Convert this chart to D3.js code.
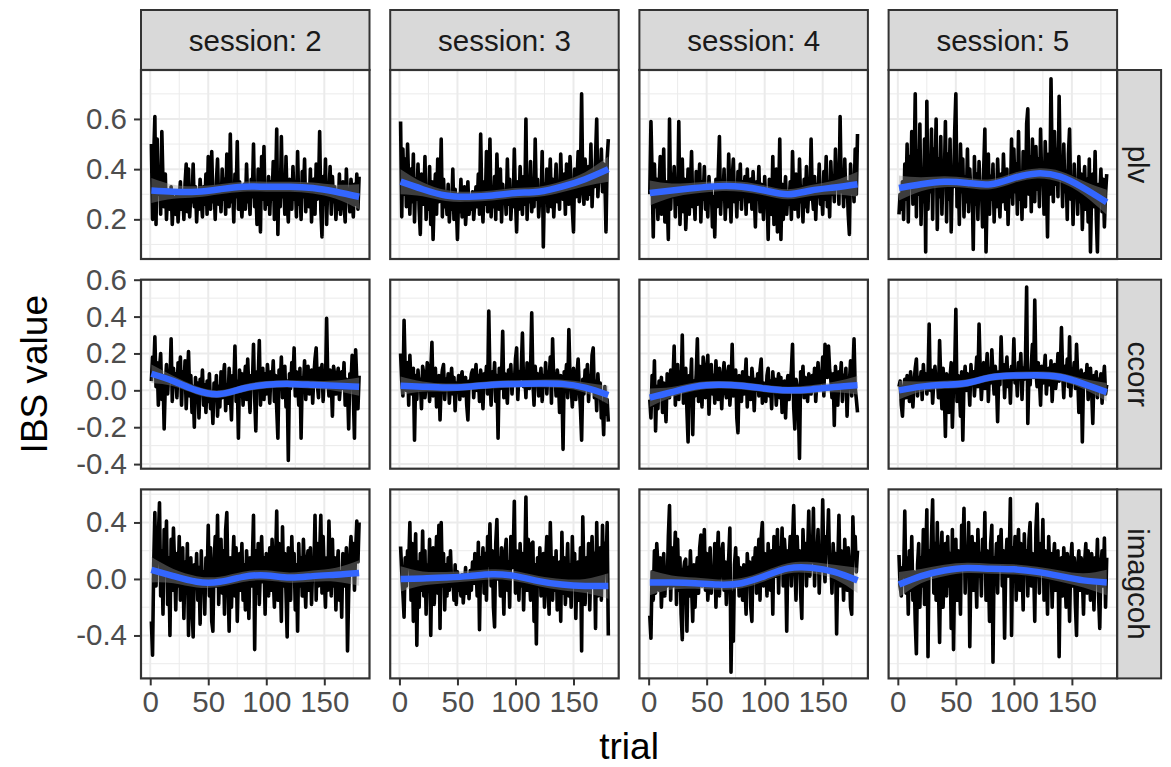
<!DOCTYPE html>
<html lang="en">
<head>
<meta charset="UTF-8">
<title>IBS value by trial</title>
<style>
  body { margin: 0; background: #fff; }
  text { font-family: "Liberation Sans", Arial, sans-serif; }
</style>
</head>
<body>
<div class="chart"></div>
<script src="https://d3js.org/d3.v7.min.js"></script>
<script>
// facet labels
var sessions = ["session: 2", "session: 3", "session: 4", "session: 5"];
var measures = ["plv", "ccorr", "imagcoh"];

// x ticks and y ticks per row
var xTicks = [0, 50, 100, 150];
var plvTicks = [0.2, 0.4, 0.6];
var ccorrTicks = [-0.4, -0.2, 0.0, 0.2, 0.4, 0.6];
var imagcohTicks = [-0.4, 0.0, 0.4];

// raw IBS values, trial 1..180
var plvS2 = [.50,.20,.45,.61,.18,.52,.30,.40,.22,.55,.35,.25,.38,.20,.30,.28,.24,.33,.18,.29,
  .26,.22,.31,.19,.28,.35,.24,.30,.20,.34,.42,.23,.40,.21,.30,.27,.42,.25,.33,.19,
  .30,.24,.36,.28,.21,.33,.26,.38,.22,.45,.29,.24,.47,.27,.33,.20,.35,.44,.26,.31,
  .23,.40,.28,.36,.22,.46,.30,.25,.54,.27,.33,.19,.38,.29,.51,.24,.35,.28,.21,.30,
  .34,.24,.42,.27,.31,.22,.36,.29,.50,.25,.33,.18,.40,.30,.15,.45,.28,.49,.24,.32,
  .26,.37,.22,.35,.28,.43,.20,.31,.56,.14,.38,.25,.53,.29,.33,.22,.45,.27,.19,.36,
  .30,.24,.41,.28,.35,.21,.47,.26,.32,.20,.39,.29,.44,.23,.34,.27,.25,.40,.19,.33,
  .36,.22,.42,.28,.31,.55,.24,.13,.37,.26,.44,.18,.34,.30,.41,.22,.37,.27,.33,.20,
  .29,.24,.38,.22,.32,.35,.26,.19,.40,.28,.31,.23,.36,.29,.21,.34,.26,.38,.24,.37];
var plvS3 = [.59,.21,.48,.30,.44,.25,.50,.35,.22,.40,.27,.46,.19,.36,.28,.42,.24,.14,.38,.30,
  .26,.45,.20,.33,.24,.41,.18,.35,.12,.29,.38,.22,.44,.27,.30,.52,.21,.36,.25,.31,
  .22,.34,.19,.28,.24,.40,.20,.32,.26,.12,.30,.23,.36,.21,.27,.33,.18,.26,.35,.22,
  .29,.24,.31,.20,.27,.33,.25,.38,.22,.54,.28,.19,.35,.26,.47,.23,.30,.52,.21,.33,
  .25,.37,.20,.46,.28,.24,.40,.19,.34,.27,.31,.22,.44,.26,.36,.20,.30,.25,.48,.28,
  .15,.35,.24,.41,.29,.22,.37,.26,.60,.20,.33,.27,.43,.23,.31,.25,.52,.28,.36,.21,
  .30,.26,.47,.09,.34,.28,.40,.23,.33,.44,.25,.36,.21,.32,.42,.27,.35,.24,.46,.30,
  .28,.38,.22,.42,.31,.26,.45,.33,.24,.15,.40,.29,.35,.47,.27,.38,.70,.32,.26,.44,
  .36,.28,.41,.30,.50,.25,.38,.33,.45,.60,.29,.40,.35,.48,.31,.42,.37,.15,.44,.52];
var plvS4 = [.30,.59,.38,.13,.42,.25,.36,.20,.33,.45,.22,.30,.48,.19,.35,.27,.12,.60,.24,.38,
  .29,.41,.21,.34,.26,.59,.18,.31,.44,.23,.36,.16,.28,.40,.22,.33,.47,.25,.30,.20,
  .39,.26,.32,.42,.19,.35,.28,.41,.24,.31,.21,.37,.27,.33,.17,.29,.13,.36,.25,.38,
  .53,.22,.34,.28,.40,.20,.31,.25,.46,.30,.19,.36,.44,.27,.33,.21,.39,.28,.42,.24,
  .35,.30,.37,.22,.40,.27,.33,.36,.24,.39,.30,.17,.35,.28,.41,.23,.34,.29,.20,.37,
  .25,.31,.12,.36,.27,.22,.45,.18,.30,.40,.15,.28,.52,.12,.34,.20,.29,.37,.22,.31,
  .26,.35,.20,.47,.28,.24,.38,.30,.21,.44,.27,.33,.19,.36,.25,.41,.23,.32,.28,.52,
  .30,.24,.37,.20,.34,.29,.42,.26,.31,.22,.39,.28,.45,.25,.35,.21,.43,.30,.36,.27,
  .48,.33,.40,.26,.61,.31,.38,.25,.44,.29,.35,.22,.14,.42,.32,.37,.27,.48,.30,.54];
var plvS5 = [.22,.30,.24,.35,.20,.42,.28,.50,.19,.45,.33,.55,.26,.38,.70,.21,.47,.30,.58,.18,
  .40,.27,.52,.07,.67,.24,.43,.31,.56,.20,.48,.35,.60,.16,.44,.29,.53,.22,.41,.34,
  .59,.19,.46,.28,.52,.15,.39,.33,.55,.70,.25,.42,.18,.50,.31,.44,.21,.37,.27,.48,
  .23,.40,.30,.35,.08,.45,.26,.38,.20,.43,.29,.35,.17,.40,.56,.07,.31,.46,.22,.37,
  .28,.42,.19,.35,.25,.44,.30,.21,.38,.27,.46,.33,.24,.40,.18,.35,.29,.52,.26,.48,
  .31,.42,.22,.55,.28,.38,.20,.47,.34,.25,.58,.64,.30,.45,.23,.52,.36,.27,.49,.32,
  .44,.25,.56,.35,.40,.22,.51,.38,.13,.46,.30,.76,.41,.27,.55,.34,.48,.29,.69,.36,
  .43,.25,.50,.31,.39,.20,.46,.56,.28,.37,.18,.42,.30,.35,.22,.45,.27,.38,.16,.33,
  .41,.24,.36,.19,.44,.07,.31,.38,.25,.47,.21,.07,.34,.29,.40,.23,.36,.17,.30,.38];

var ccorrS2 = [.05,.18,.10,.29,.02,.15,-.08,.12,.20,-.05,.08,-.21,.03,.14,-.02,.10,.05,.28,-.06,.12,
  .02,.09,-.04,.15,.06,.18,-.08,.10,.01,.16,-.10,.05,.21,-.03,.08,-.12,.02,-.20,.07,-.05,
  .04,-.15,.06,-.02,.11,-.08,.03,-.12,.05,-.06,.09,-.10,-.01,-.18,.04,-.05,.08,-.14,.02,-.09,
  .10,-.04,.07,.14,-.11,.03,-.07,.12,-.02,-.16,.08,.01,.24,-.06,.05,-.26,.11,-.03,.09,-.08,
  .04,.13,-.05,.17,.00,-.12,.08,.02,.25,-.04,-.22,.10,.06,.27,-.08,.03,.12,-.05,.09,-.02,
  .14,.05,-.07,.10,.03,.16,-.06,.08,-.10,-.26,.11,.02,.18,-.04,.07,.13,-.09,.05,-.38,.09,
  .01,.15,.06,.23,-.03,.10,.04,-.08,.12,-.26,.07,.02,.16,-.05,.09,.13,-.02,.06,.11,-.07,
  .08,.17,.23,.03,-.04,.12,.05,.14,-.06,.09,.02,.39,.06,-.03,.11,.04,-.14,.13,.08,-.02,
  .07,.12,-.05,.03,.10,.01,.15,-.08,.06,.02,-.21,.09,.04,.19,-.03,-.26,.22,.05,-.10,.08];
var ccorrS3 = [.20,.05,-.03,.38,.10,.00,.15,-.08,.19,.04,-.02,.12,-.27,.08,-.05,.11,.02,.06,-.10,.13,
  .09,-.04,.03,.15,.07,-.06,.10,.26,-.03,.05,.12,-.09,.02,.08,-.16,.04,.11,.14,-.05,.06,
  .01,.09,-.07,.03,.12,-.02,.07,-.11,.04,.00,.08,-.05,.06,.10,-.03,.02,.07,-.08,-.16,.05,
  .03,.09,.11,-.04,.06,.14,.00,.08,-.06,.11,.02,-.10,.09,.04,.13,-.02,.43,.06,-.08,.10,
  .03,.15,-.06,.08,-.26,.12,.01,.07,.32,-.04,.09,.02,-.07,.11,.05,.14,-.02,.08,.03,.17,
  .23,-.05,.10,.06,.12,.31,.02,.09,-.04,.15,.07,.01,.11,.42,.05,-.08,.13,.03,.09,-.03,
  .06,.12,-.06,.08,.02,.15,-.02,.10,.05,.18,-.07,.28,.04,.09,-.03,.11,.06,-.12,.08,.03,
  -.32,.10,.05,.14,-.04,.33,.07,.02,-.09,.12,.04,-.05,.09,.17,.01,-.10,-.27,.06,-.02,.11,
  .03,.14,-.06,.08,.01,.19,.23,-.04,.05,-.11,.09,-.02,.04,-.15,-.08,-.24,.02,-.13,-.05,-.17];
var ccorrS4 = [-.05,-.15,.08,-.08,.16,-.22,.02,-.10,.05,-.03,.07,-.12,.04,-.06,-.17,.09,.01,-.04,.11,-.02,
  .06,.24,-.08,.03,.14,-.05,.10,.00,.30,-.07,.04,.12,-.11,-.28,.08,.02,.17,-.24,.05,-.03,
  .09,.28,-.06,.13,.03,-.09,.18,.07,-.04,.11,.19,-.13,.05,.14,-.02,.08,-.07,.16,.01,-.05,
  .12,.04,-.10,.07,.15,.00,-.04,.09,.13,-.08,.02,.25,-.03,.06,.11,-.15,-.23,.08,.03,-.06,
  .10,-.02,.05,.17,-.09,.07,.01,-.05,.12,.04,-.11,.06,.00,.09,-.03,.11,.17,-.07,.04,.02,
  -.06,.08,.12,-.03,.05,-.10,.10,.01,.06,-.08,.03,.09,-.04,.07,-.12,.00,.05,-.15,.02,.08,
  -.05,.04,.11,.25,-.09,-.21,.06,.02,-.08,-.37,.10,.03,.13,-.04,.07,.01,-.06,.09,.03,-.02,
  .08,.00,.12,-.06,.05,.15,.02,.10,.04,.18,-.03,.25,.14,.07,.24,.11,.06,-.04,.09,-.19,
  .13,.03,-.08,.10,.05,.15,-.06,.08,.02,.12,-.14,.07,.04,.16,-.03,.09,.28,.01,-.05,-.12];
var ccorrS5 = [.02,.05,-.08,-.14,.01,.06,-.04,.08,.03,-.06,.10,.00,-.09,.04,.12,.17,-.03,.07,.01,.10,
  -.05,.14,.03,.09,-.02,.06,.36,.00,.11,-.07,.05,.13,.02,.08,-.04,.27,.06,-.10,.12,.01,
  -.25,.09,.04,-.12,.07,.15,-.20,.03,.11,.44,-.06,.08,.02,-.14,.10,-.27,.05,.13,.00,.09,
  .06,-.08,.14,.03,.10,-.03,.08,.18,.02,.36,.11,-.05,.07,.15,.01,.09,.20,-.06,.12,.04,
  .22,.08,-.02,.13,.05,-.17,.10,.03,.29,.07,.14,-.04,.09,.18,.02,.11,-.07,.13,.06,.28,
  .04,.10,-.03,.15,.08,.20,-.05,.12,.06,.17,.56,-.18,.09,.03,.14,.25,.07,.49,.10,.02,
  .15,.06,-.08,.13,.04,.10,.19,-.02,.08,.12,.03,.16,-.06,.09,.14,.01,.07,.20,.05,.11,
  .34,.09,-.04,.13,.06,.17,.02,.29,-.03,.10,.07,.15,.01,.25,.08,-.12,.04,.11,-.28,.06,
  .09,.02,.14,-.05,.07,.12,.00,-.18,.08,.03,.10,-.04,.06,.01,.09,-.07,.05,.13,-.02,.03];

var imagcohS2 = [-.30,-.54,.10,.47,-.05,.25,.30,.54,-.12,.20,-.25,.35,.05,.41,-.18,.15,-.40,.28,-.08,.36,
  .10,-.22,.18,-.05,.30,-.15,.08,.22,-.28,.12,-.10,.25,-.40,.02,.15,-.20,-.41,.10,-.05,.18,
  -.15,.08,-.32,.20,-.08,.05,-.25,.15,-.02,.38,-.12,.22,-.30,-.37,.10,.30,-.05,.45,-.18,.12,
  .28,-.10,.20,-.25,.35,.47,-.02,-.37,.15,-.20,.08,.30,-.12,.22,-.30,.05,.18,-.08,.25,-.15,
  .10,-.22,.20,.02,-.28,.15,-.05,.12,.45,-.50,.20,-.10,.25,-.18,.08,.30,-.02,.15,-.25,.18,
  .05,-.12,.22,-.08,.28,.02,-.20,.12,.48,-.15,.25,.05,-.30,.37,-.05,.18,-.10,-.41,.22,.08,
  -.15,.30,.00,.18,-.22,.10,-.37,.25,-.05,.15,-.12,.28,.02,-.20,.12,.20,-.08,.22,-.18,.10,
  .05,.45,-.15,.25,-.05,.18,.45,-.10,.30,.02,-.20,.15,-.08,.41,.10,-.12,.28,-.05,.15,-.22,
  .08,.20,-.15,.05,-.27,.18,.10,-.05,.22,-.51,-.10,.15,.30,.05,.25,-.08,.20,.41,.12,.40];
var imagcohS3 = [.23,.05,-.10,-.27,.15,-.05,.20,.10,.40,-.15,.25,-.30,.08,.32,-.47,.12,-.20,.18,-.08,.34,
  -.12,.20,-.25,.10,-.05,.28,-.40,.15,.22,-.18,.05,.30,-.10,.38,-.35,.40,-.05,.18,-.22,.10,
  -.12,.15,-.08,.20,-.05,.02,-.15,.10,-.18,.05,-.08,.00,-.12,.03,-.17,-.05,.08,-.10,.02,-.14,
  .06,-.08,.12,-.03,.18,.08,-.12,.26,-.36,.15,.05,.22,-.10,.18,-.15,.30,.10,.39,-.05,.20,
  -.20,-.34,.25,.42,.00,.15,-.12,.22,.05,-.25,.18,.28,-.08,.12,-.20,.30,.08,.15,.55,-.10,
  .20,.05,-.15,.25,-.05,.18,-.22,.10,.58,-.08,.28,.02,-.15,.25,.26,-.30,.10,-.46,.15,-.05,
  .22,-.12,.08,.18,-.20,.12,.30,-.05,-.25,.40,.05,-.15,.15,-.08,.20,-.22,.02,.12,-.30,.33,
  -.10,.15,-.18,.05,.25,-.12,.10,-.20,.30,-.05,.18,-.28,.08,.12,-.15,.22,-.51,.44,.02,-.18,
  .15,-.08,.25,-.22,.10,.30,-.05,.18,-.35,.40,-.12,.08,.22,-.15,.38,-.05,.25,.05,.40,-.40];
var imagcohS4 = [-.26,-.42,.05,-.15,.20,-.10,.25,.10,-.08,.15,-.20,.02,.18,-.12,.08,-.05,.30,.52,-.15,.22,
  -.05,.10,.33,-.18,.28,-.08,.15,-.25,-.43,.05,.12,.14,-.37,.08,-.12,.20,-.05,-.30,.10,-.20,
  .05,.15,-.10,.22,.31,-.05,.12,.35,-.08,.18,-.15,.02,.22,-.10,.08,-.05,.25,-.20,.15,.33,
  -.12,.10,.20,.25,-.08,.12,-.18,.05,.15,.36,-.66,-.10,-.44,.10,.22,-.05,.15,-.12,.08,.02,
  -.15,.10,-.05,-.25,.18,.02,.12,-.20,-.30,.15,.05,.22,-.10,.08,.28,-.15,.30,.40,-.05,.18,
  .10,-.12,.25,.05,-.08,.20,-.25,.30,.12,.02,.35,-.10,.22,.08,.36,-.05,.28,.15,-.37,.20,
  .10,.30,-.05,.25,.52,.12,-.15,.30,.05,.20,-.10,-.28,.35,.10,.25,-.05,.18,.48,.02,.30,
  .12,.50,-.05,.25,.15,.35,-.10,.20,.08,.56,.12,-.02,.30,.22,.49,.05,.15,-.10,.25,.08,
  .18,-.39,.10,.45,-.05,.20,.12,-.15,.28,.05,-.08,.22,.10,-.20,-.25,.44,.15,.30,.05,.20];
var imagcohS5 = [.17,-.05,-.12,.08,.02,.48,-.10,.15,-.25,.20,-.08,.30,-.15,.05,-.30,-.53,.10,.25,-.20,.15,
  -.05,.35,-.18,.12,.49,-.55,.20,.05,.30,.56,-.10,.25,-.15,.40,-.05,-.45,.15,.33,-.20,.10,
  .25,-.12,.30,-.05,.18,-.35,.35,-.50,.10,.28,-.15,.20,.05,-.25,.38,.15,.50,-.10,.22,.05,
  .40,-.48,.12,.30,-.08,.25,.10,-.20,.35,.02,.18,-.12,.28,.05,.47,-.15,.20,.10,-.30,.25,
  .38,-.59,.15,.05,.25,-.10,.30,.12,.35,-.05,.20,-.42,.10,.28,.02,.15,.57,-.40,.22,.05,
  .30,-.15,.18,.35,-.08,.25,.10,-.22,.32,.05,.20,-.12,.28,.40,-.05,.18,.10,-.30,.35,.53,
  .15,-.10,.25,.05,.42,-.15,.20,.08,-.25,.30,.02,.18,-.20,.12,.25,-.08,.05,.20,-.55,.10,
  .15,-.12,.22,.05,-.20,.18,.08,-.30,.12,.25,-.05,.15,-.18,-.40,.10,.20,-.08,.15,.02,-.25,
  .12,.25,-.10,.20,.05,-.15,.18,.08,-.22,.15,.02,.28,-.12,-.35,.10,.20,-.05,.29,-.20,.15];

// loess fit, at these trials
var fitTrials = [1, 20, 40, 60, 80, 100, 120, 140, 160, 180];
var plvS2Fit = [0.315, 0.31, 0.31, 0.32, 0.33, 0.33, 0.33, 0.325, 0.31, 0.29];
var plvS3Fit = [0.35, 0.32, 0.295, 0.29, 0.295, 0.305, 0.31, 0.33, 0.36, 0.40];
var plvS4Fit = [0.305, 0.315, 0.325, 0.332, 0.33, 0.315, 0.30, 0.315, 0.327, 0.34];
var plvS5Fit = [0.325, 0.34, 0.35, 0.345, 0.34, 0.365, 0.383, 0.37, 0.325, 0.268];
var ccorrS2Fit = [0.09, 0.05, 0.0, -0.02, 0.01, 0.03, 0.035, 0.03, 0.025, 0.02];
var ccorrS3Fit = [0.025, 0.02, 0.015, 0.02, 0.03, 0.035, 0.037, 0.035, 0.015, -0.025];
var ccorrS4Fit = [-0.04, -0.01, 0.02, 0.03, 0.025, 0.01, 0.0, 0.005, 0.018, 0.028];
var ccorrS5Fit = [0.0, 0.02, 0.03, 0.04, 0.07, 0.08, 0.082, 0.072, 0.035, -0.01];
var imagcohS2Fit = [0.065, 0.02, -0.02, -0.02, 0.015, 0.025, 0.01, 0.02, 0.03, 0.042];
var imagcohS3Fit = [0.0, 0.003, 0.01, 0.02, 0.033, 0.02, -0.015, -0.04, -0.05, -0.05];
var imagcohS4Fit = [-0.025, -0.025, -0.03, -0.04, -0.03, 0.02, 0.075, 0.08, 0.05, -0.01];
var imagcohS5Fit = [-0.04, 0.02, 0.06, 0.078, 0.072, 0.068, 0.05, 0.02, -0.01, -0.025];

// half width of the grey confidence band
var plvSe = [0.05, 0.028, 0.022, 0.02, 0.02, 0.02, 0.02, 0.022, 0.028, 0.05];
var ccorrSe = [0.05, 0.028, 0.022, 0.02, 0.02, 0.02, 0.02, 0.022, 0.028, 0.05];
var imagcohSe = [0.09, 0.05, 0.04, 0.036, 0.036, 0.036, 0.036, 0.04, 0.05, 0.09];

var rows = [
  { ticks: plvTicks, minor: [0.1, 0.3, 0.5, 0.7], domain: [0.042, 0.795], se: plvSe,
    series: [plvS2, plvS3, plvS4, plvS5], fits: [plvS2Fit, plvS3Fit, plvS4Fit, plvS5Fit] },
  { ticks: ccorrTicks, minor: [-0.3, -0.1, 0.1, 0.3, 0.5], domain: [-0.425, 0.6], se: ccorrSe,
    series: [ccorrS2, ccorrS3, ccorrS4, ccorrS5], fits: [ccorrS2Fit, ccorrS3Fit, ccorrS4Fit, ccorrS5Fit] },
  { ticks: imagcohTicks, minor: [-0.6, -0.2, 0.2, 0.6], domain: [-0.704, 0.634], se: imagcohSe,
    series: [imagcohS2, imagcohS3, imagcohS4, imagcohS5], fits: [imagcohS2Fit, imagcohS3Fit, imagcohS4Fit, imagcohS5Fit] }
];

var W = 1171, H = 767;
var panelLeft = 141, panelTop = 70;
var pw = 228.5, ph = 189, gap = 20.7;
var stripH = 60, stripW = 44;

var svg = d3.select(".chart").append("svg")
  .attr("width", W).attr("height", H);

var x = d3.scaleLinear().domain([1 - 8.95, 180 + 8.95]).range([0, pw]);
var fmt = function(d) { return d.toFixed(1); };

// top strips
sessions.forEach(function(s, c) {
  var g = svg.append("g").attr("transform", "translate(" + (panelLeft + c * (pw + gap)) + "," + (panelTop - stripH) + ")");
  g.append("rect").attr("width", pw).attr("height", stripH)
    .attr("fill", "#d9d9d9").attr("stroke", "#333333").attr("stroke-width", 2);
  g.append("text").attr("x", pw / 2).attr("y", stripH / 2).attr("dy", "0.36em")
    .attr("text-anchor", "middle").attr("font-size", 29.5).attr("fill", "#1a1a1a").text(s);
});

rows.forEach(function(row, r) {
  var y0 = panelTop + r * (ph + gap);
  var y = d3.scaleLinear().domain(row.domain).range([ph, 0]);

  // right strip
  var sg = svg.append("g").attr("transform", "translate(" + (panelLeft + 4 * pw + 3 * gap) + "," + y0 + ")");
  sg.append("rect").attr("width", stripW).attr("height", ph)
    .attr("fill", "#d9d9d9").attr("stroke", "#333333").attr("stroke-width", 2);
  sg.append("text").attr("transform", "translate(" + (stripW / 2) + "," + (ph / 2) + ") rotate(90)")
    .attr("dy", "0.36em").attr("text-anchor", "middle").attr("font-size", 29.5)
    .attr("fill", "#1a1a1a").text(measures[r]);

  // y axis on the first column
  var ya = svg.append("g").attr("transform", "translate(" + panelLeft + "," + y0 + ")")
    .call(d3.axisLeft(y).tickValues(row.ticks).tickFormat(fmt).tickSize(7).tickPadding(7));
  ya.select(".domain").remove();
  ya.selectAll("line").attr("stroke", "#333333").attr("stroke-width", 2);
  ya.selectAll("text").attr("font-size", 29.5).attr("fill", "#4d4d4d")
    .attr("font-family", "Liberation Sans, Arial, sans-serif");

  sessions.forEach(function(s, c) {
    var x0 = panelLeft + c * (pw + gap);
    var g = svg.append("g").attr("transform", "translate(" + x0 + "," + y0 + ")");
    var clipId = "clip" + r + c;
    g.append("clipPath").attr("id", clipId).append("rect").attr("width", pw).attr("height", ph);

    g.append("rect").attr("width", pw).attr("height", ph).attr("fill", "#ffffff");

    // minor grid
    g.selectAll(".hmin").data(row.minor.filter(function(v) { return v > row.domain[0] && v < row.domain[1]; }))
      .enter().append("line")
      .attr("x1", 0).attr("x2", pw).attr("y1", y).attr("y2", y)
      .attr("stroke", "#ebebeb").attr("stroke-width", 1);
    g.selectAll(".vmin").data([25, 75, 125, 175]).enter().append("line")
      .attr("y1", 0).attr("y2", ph).attr("x1", x).attr("x2", x)
      .attr("stroke", "#ebebeb").attr("stroke-width", 1);
    // major grid
    g.selectAll(".hmaj").data(row.ticks).enter().append("line")
      .attr("x1", 0).attr("x2", pw).attr("y1", y).attr("y2", y)
      .attr("stroke", "#ebebeb").attr("stroke-width", 2);
    g.selectAll(".vmaj").data(xTicks).enter().append("line")
      .attr("y1", 0).attr("y2", ph).attr("x1", x).attr("x2", x)
      .attr("stroke", "#ebebeb").attr("stroke-width", 2);

    var inner = g.append("g").attr("clip-path", "url(#" + clipId + ")");

    var pts = row.series[c].slice(0, 180).map(function(v, i) { return [i + 1, v]; });
    inner.append("path").datum(pts)
      .attr("d", d3.line().x(function(d) { return x(d[0]); }).y(function(d) { return y(d[1]); }))
      .attr("fill", "none").attr("stroke", "#000000").attr("stroke-width", 3.6)
      .attr("stroke-linejoin", "round");

    var fit = fitTrials.map(function(t, i) { return { t: t, v: row.fits[c][i], se: row.se[i] }; });
    inner.append("path").datum(fit)
      .attr("d", d3.area().curve(d3.curveNatural)
        .x(function(d) { return x(d.t); })
        .y0(function(d) { return y(d.v - d.se); })
        .y1(function(d) { return y(d.v + d.se); }))
      .attr("fill", "#999999").attr("fill-opacity", 0.4);
    inner.append("path").datum(fit)
      .attr("d", d3.line().curve(d3.curveNatural)
        .x(function(d) { return x(d.t); }).y(function(d) { return y(d.v); }))
      .attr("fill", "none").attr("stroke", "#3366ff").attr("stroke-width", 6.5);

    g.append("rect").attr("width", pw).attr("height", ph)
      .attr("fill", "none").attr("stroke", "#333333").attr("stroke-width", 2.2);

    // x axis on bottom row
    if (r === rows.length - 1) {
      var xa = g.append("g").attr("transform", "translate(0," + ph + ")")
        .call(d3.axisBottom(x).tickValues(xTicks).tickSize(7).tickPadding(6));
      xa.select(".domain").remove();
      xa.selectAll("line").attr("stroke", "#333333").attr("stroke-width", 2);
      xa.selectAll("text").attr("font-size", 29.5).attr("fill", "#4d4d4d")
        .attr("font-family", "Liberation Sans, Arial, sans-serif");
    }
  });
});

// axis titles
svg.append("text").attr("x", panelLeft + (4 * pw + 3 * gap) / 2).attr("y", 759)
  .attr("text-anchor", "middle").attr("font-size", 37).attr("fill", "#000").text("trial");
svg.append("text").attr("transform", "translate(47," + (panelTop + (3 * ph + 2 * gap) / 2) + ") rotate(-90)")
  .attr("text-anchor", "middle").attr("font-size", 37).attr("fill", "#000").text("IBS value");
</script>
</body>
</html>
